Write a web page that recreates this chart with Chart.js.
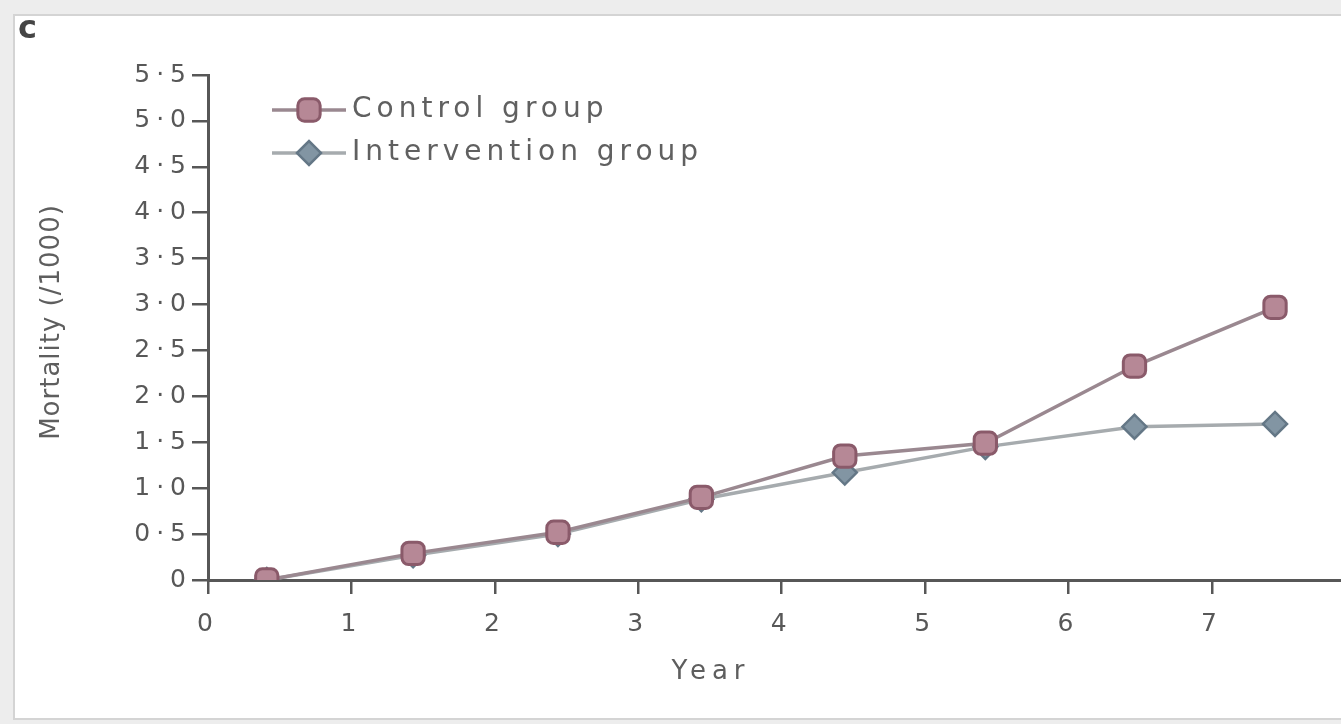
<!DOCTYPE html>
<html>
<head>
<meta charset="utf-8">
<title>Mortality by year</title>
<script src="https://cdn.jsdelivr.net/npm/chart.js@4/dist/chart.umd.min.js"></script>
<style>
  html, body { margin: 0; padding: 0; background: #f1f1f1; }
  #wrap { position: relative; width: 1341px; height: 724px; }
  canvas { display: block; }
</style>
</head>
<body>
<div id="wrap"><canvas id="c" width="1341" height="724"></canvas></div>
<script>
// Follow-up year (midpoint of each year of follow-up)
const years = [0.41, 1.43, 2.44, 3.44, 4.44, 5.42, 6.46, 7.44];
// Cumulative mortality per 1000
const controlGroup = [0, 0.29, 0.52, 0.90, 1.35, 1.49, 2.33, 2.97];
const interventionGroup = [0, 0.27, 0.50, 0.88, 1.17, 1.45, 1.67, 1.70];
const seriesNames = ['Control group', 'Intervention group'];
const xTicks = [0, 1, 2, 3, 4, 5, 6, 7];
const panelLabel = 'c';
const xTitle = 'Year';
const yTitle = 'Mortality (/1000)';

const tickFont = { family: 'DejaVu Sans', size: 25 };
const tickColor = '#585858';
const axisColor = '#575757';

const controlStyle = {
  borderColor: '#9a8890', pointStyle: 'rectRounded', pointRadius: 13,
  pointBackgroundColor: '#b68896', pointBorderColor: '#8a5a6a', pointBorderWidth: 3
};
const interventionStyle = {
  borderColor: '#a6abae', pointStyle: 'rectRot', pointRadius: 12,
  pointBackgroundColor: '#8295a3', pointBorderColor: '#647786', pointBorderWidth: 2.5
};

function toPoints(xs, ys) { return xs.map((x, i) => ({ x: x, y: ys[i] })); }

// Page frame behind the chart; wide tracking for the tick labels
const framePlugin = {
  id: 'frame',
  beforeDraw(chart) {
    const ctx = chart.ctx;
    ctx.save();
    ctx.fillStyle = '#ededed';
    ctx.fillRect(0, 0, chart.width, chart.height);
    ctx.fillStyle = '#ffffff';
    ctx.fillRect(14, 15, chart.width - 14, 704);
    ctx.strokeStyle = '#d4d4d4';
    ctx.lineWidth = 2;
    ctx.strokeRect(14, 15, chart.width, 704);
    ctx.restore();
    ctx.letterSpacing = '6px';
  }
};

// Panel letter, axis titles and the legend
const annotatePlugin = {
  id: 'annotate',
  afterDraw(chart) {
    const ctx = chart.ctx;
    ctx.save();
    ctx.letterSpacing = '0px';
    ctx.fillStyle = '#454545';
    ctx.font = 'bold 32px "DejaVu Sans"';
    ctx.textAlign = 'left';
    ctx.textBaseline = 'middle';
    ctx.fillText(panelLabel, 18, 30);

    ctx.letterSpacing = '6px';
    ctx.fillStyle = '#5e5e5e';
    ctx.font = '26px "DejaVu Sans"';
    ctx.textAlign = 'center';
    ctx.fillText(xTitle, 711, 672);

    ctx.letterSpacing = '1px';
    ctx.save();
    ctx.translate(52, 322);
    ctx.rotate(-Math.PI / 2);
    ctx.font = '26px "DejaVu Sans"';
    ctx.fillText(yTitle, 0, 0);
    ctx.restore();

    const styles = [controlStyle, interventionStyle];
    const rows = [110, 153];
    styles.forEach((s, i) => {
      const y = rows[i];
      ctx.strokeStyle = s.borderColor;
      ctx.lineWidth = 3.5;
      ctx.beginPath();
      ctx.moveTo(272, y);
      ctx.lineTo(346, y);
      ctx.stroke();
      ctx.fillStyle = s.pointBackgroundColor;
      ctx.strokeStyle = s.pointBorderColor;
      ctx.lineWidth = s.pointBorderWidth;
      Chart.helpers.drawPoint(ctx, {
        pointStyle: s.pointStyle, radius: s.pointRadius, rotation: 0,
        borderWidth: s.pointBorderWidth
      }, 309, y);
      ctx.letterSpacing = '5px';
      ctx.fillStyle = '#606060';
      ctx.font = '28px "DejaVu Sans"';
      ctx.textAlign = 'left';
      ctx.textBaseline = 'middle';
      ctx.fillText(seriesNames[i], 352, y);
      ctx.letterSpacing = '0px';
    });
    ctx.restore();
  }
};

new Chart(document.getElementById('c'), {
  type: 'line',
  data: {
    datasets: [
      Object.assign({ label: seriesNames[0], data: toPoints(years, controlGroup), borderWidth: 3.5, fill: false, tension: 0 }, controlStyle),
      Object.assign({ label: seriesNames[1], data: toPoints(years, interventionGroup), borderWidth: 3.5, fill: false, tension: 0 }, interventionStyle)
    ]
  },
  options: {
    responsive: false,
    animation: false,
    devicePixelRatio: 1,
    layout: { autoPadding: false, padding: { left: 0, top: 75, right: 0, bottom: 0 } },
    plugins: { legend: { display: false }, tooltip: { enabled: false } },
    scales: {
      x: {
        type: 'linear', min: 0, max: 7.9,
        afterFit(s) { s.height = 144; s.paddingLeft = 0; s.paddingRight = 0; },
        afterBuildTicks(s) { s.ticks = xTicks.map(v => ({ value: v })); },
        ticks: { color: tickColor, font: tickFont, padding: 15, maxRotation: 0, autoSkip: false },
        grid: { drawOnChartArea: false, drawTicks: true, tickLength: 14, color: axisColor, lineWidth: 2.5 },
        border: { color: axisColor, width: 3 }
      },
      y: {
        min: 0, max: 5.5,
        afterFit(s) { s.width = 208; },
        ticks: {
          stepSize: 0.5, color: tickColor, font: tickFont, padding: 0,
          callback: v => (v === 0 ? '0' : v.toFixed(1).replace('.', '·'))
        },
        grid: { drawOnChartArea: false, drawTicks: true, tickLength: 16, color: axisColor, lineWidth: 2.5 },
        border: { color: axisColor, width: 3 }
      }
    }
  },
  plugins: [framePlugin, annotatePlugin]
});
</script>
</body>
</html>
